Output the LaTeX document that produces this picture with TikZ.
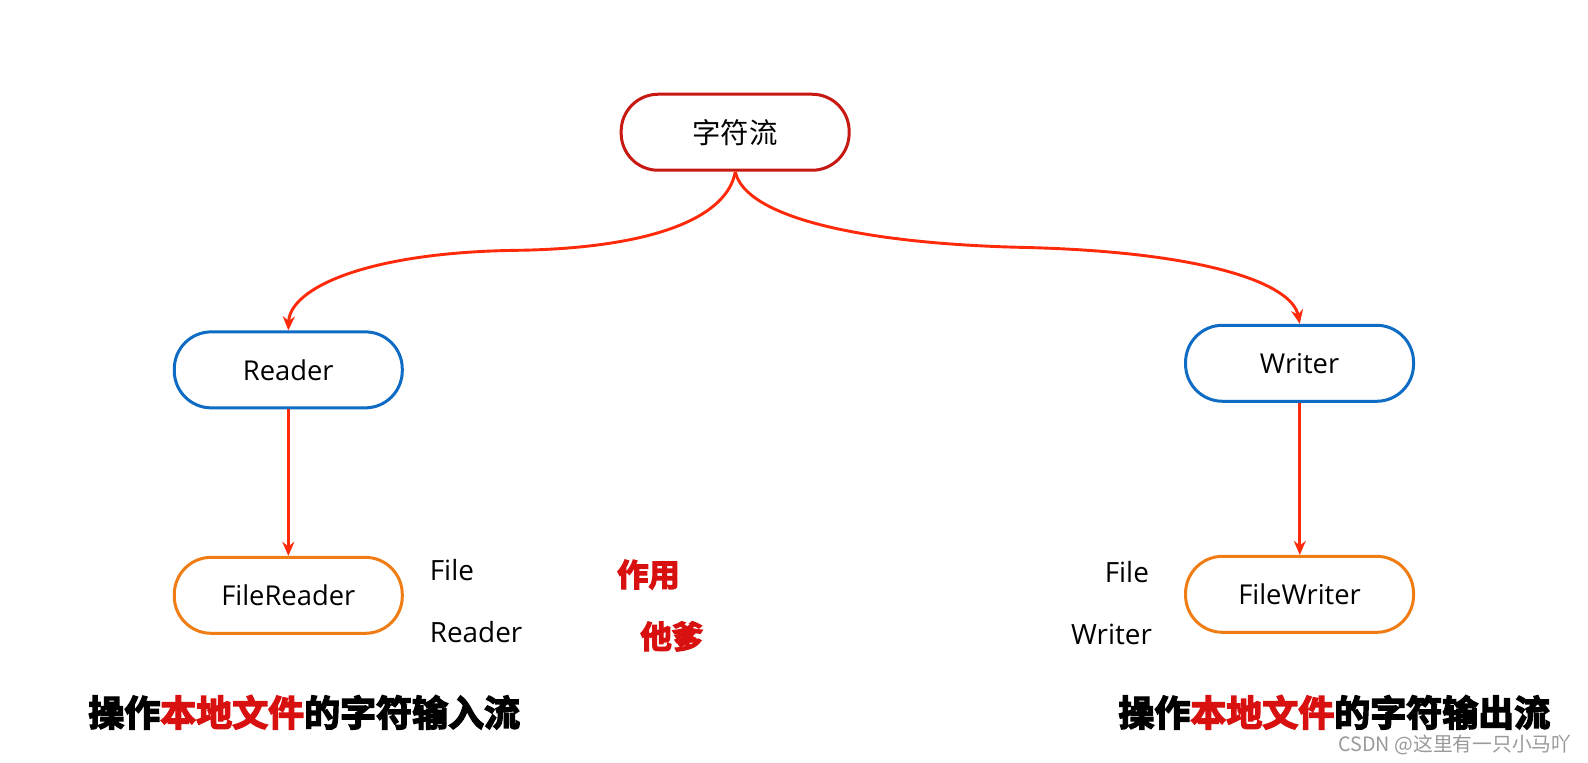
\documentclass[tikz,border=0pt]{standalone}
\usepackage{fontspec}
\setmainfont{Open Sans}
\newfontfamily\cjk{Noto Sans CJK SC}
\newfontfamily\heavy[FakeBold=4]{Noto Sans CJK SC Bold}
\newfontfamily\wmfont{Noto Sans CJK SC}
\usetikzlibrary{arrows.meta}
\definecolor{topred}{HTML}{C81812}
\definecolor{arrred}{HTML}{FF2A0A}
\definecolor{nblue}{HTML}{0F6CC4}
\definecolor{norange}{HTML}{F07D14}
\definecolor{hred}{HTML}{D81010}
\definecolor{wm}{HTML}{9A9A9A}
\tikzset{
  pill/.style={draw, line width=3pt, fill=white, rounded corners=37pt,
    minimum width=225pt, minimum height=75pt, inner sep=0pt, font=\fontsize{27}{32}\selectfont},
  conn/.style={draw=arrred, line width=2.9pt, -{Stealth[length=14pt,width=12pt]}},
  side/.style={font=\fontsize{27.5}{32}\selectfont, inner sep=0pt},
  tag/.style={font=\heavy\fontsize{31}{36}\selectfont, text=hred, inner sep=0pt},
  big/.style={font=\heavy\fontsize{35.5}{40}\selectfont, inner sep=0pt}
}
\begin{document}
\begin{tikzpicture}[x=1pt,y=-1pt]
\useasboundingbox[fill=white] (0,0) rectangle (1588,763);
\begin{scope}[scale=1.0133, transform shape]
\node[pill, draw=topred, font=\cjk\fontsize{28}{32}\selectfont] (top) at (725.5,130.5) {字符流};
\node[pill, draw=nblue] (reader) at (284.5,365) {Reader};
\node[pill, draw=nblue] (writer) at (1282.5,358.5) {Writer};
\node[pill, draw=norange] (freader) at (284.5,587.5) {FileReader};
\node[pill, draw=norange] (fwriter) at (1282.5,586.5) {FileWriter};
\coordinate (lmid) at (510,247);
\coordinate (rmid) at (1005,244);
\draw[conn] (top.south) .. controls ++(-8,45) and (645,245) .. (lmid)
  .. controls (360,249) and (286,285) .. (reader.north);
\draw[conn] (top.south) .. controls ++(10,45) and (850,240) .. (rmid)
  .. controls (1190,248) and (1275,280) .. (writer.north);
\draw[conn] (reader.south) -- (freader.north);
\draw[conn] (writer.south) -- (fwriter.north);
\node[side, anchor=west] (f1) at (424,563) {File};
\node[side, anchor=west] (r1) at (424,624) {Reader};
\node[side, anchor=east] (f2) at (1134,565) {File};
\node[side, anchor=east] (w2) at (1137,626) {Writer};
\node[tag] (zy) at (640,567) {作用};
\node[tag] (td) at (663,628) {他爹};
\node[big, anchor=west] (bl) at (87,703) {操作\textcolor{hred}{本地文件}的字符输入流};
\node[big, anchor=east] (br) at (1530,703) {操作\textcolor{hred}{本地文件}的字符输出流};
\node[font=\wmfont\fontsize{19.5}{24}\selectfont, text=wm, anchor=east, inner sep=0pt] (wmk) at (1551,735) {CSDN @这里有一只小马吖};
\end{scope}
\end{tikzpicture}
\end{document}
